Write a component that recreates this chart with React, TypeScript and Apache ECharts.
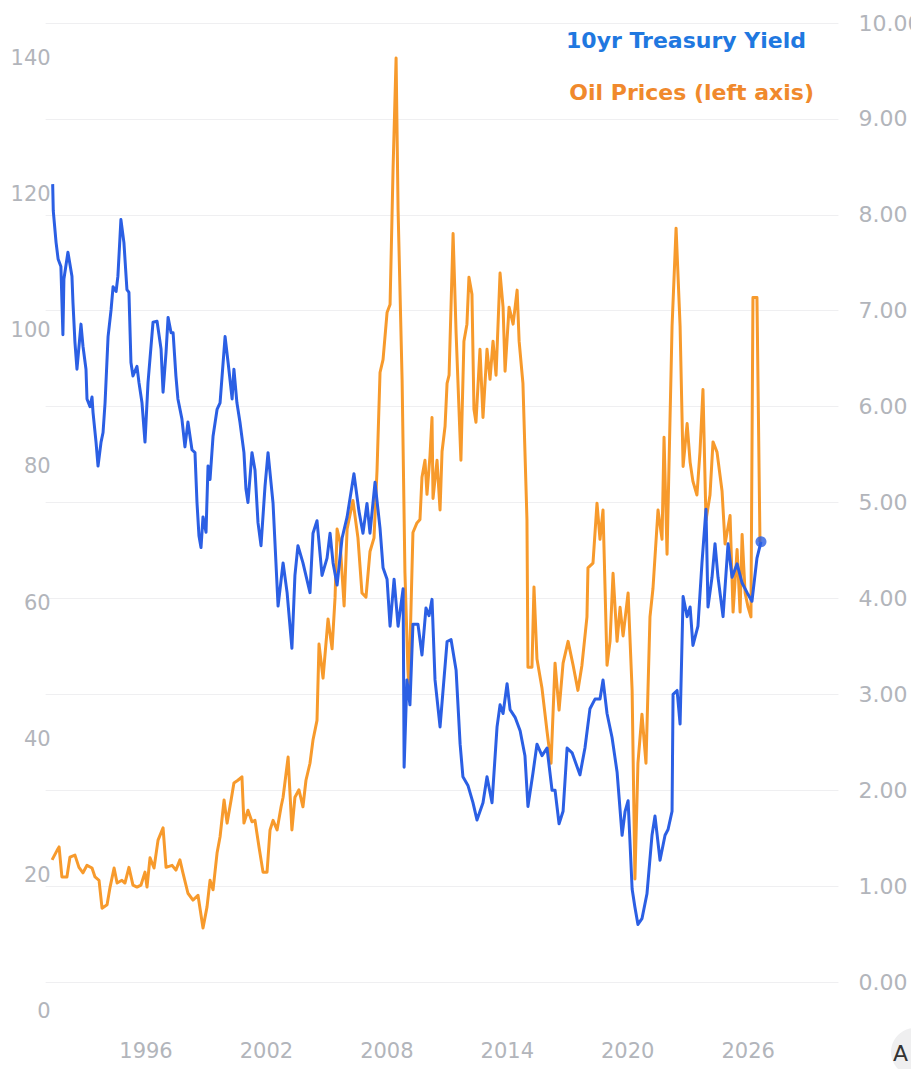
import React, { useEffect, useRef } from "react";
import * as echarts from "echarts";

// [year, yield %] – 10yr Treasury Yield (right axis)
const yieldData: [number, number][] = [
  [1991.35, 8.32], [1991.38, 8.04], [1991.52, 7.71], [1991.62, 7.54], [1991.76, 7.46], [1991.86, 6.75],
  [1991.91, 7.33], [1992.11, 7.61], [1992.31, 7.36], [1992.36, 7.09], [1992.46, 6.67], [1992.56, 6.39],
  [1992.76, 6.86], [1992.86, 6.63], [1993.01, 6.39], [1993.06, 6.08], [1993.21, 6.0], [1993.31, 6.1],
  [1993.36, 5.94], [1993.51, 5.63], [1993.61, 5.38], [1993.76, 5.63], [1993.86, 5.73], [1993.96, 6.04],
  [1994.11, 6.73], [1994.26, 7.01], [1994.36, 7.25], [1994.51, 7.2], [1994.6, 7.36], [1994.75, 7.95],
  [1994.9, 7.71], [1995.05, 7.22], [1995.15, 7.19], [1995.25, 6.46], [1995.35, 6.32], [1995.55, 6.42],
  [1995.65, 6.25], [1995.8, 6.04], [1995.95, 5.63], [1996.1, 6.25], [1996.35, 6.88], [1996.55, 6.89],
  [1996.75, 6.6], [1996.85, 6.15], [1997.0, 6.57], [1997.1, 6.93], [1997.25, 6.77], [1997.35, 6.77],
  [1997.49, 6.32], [1997.59, 6.08], [1997.79, 5.87], [1997.94, 5.58], [1998.09, 5.84], [1998.29, 5.55],
  [1998.44, 5.52], [1998.54, 5.0], [1998.64, 4.65], [1998.74, 4.53], [1998.84, 4.85], [1998.99, 4.69],
  [1999.09, 5.38], [1999.19, 5.24], [1999.34, 5.69], [1999.54, 5.97], [1999.69, 6.04], [1999.94, 6.73],
  [2000.09, 6.46], [2000.29, 6.08], [2000.38, 6.39], [2000.53, 6.04], [2000.68, 5.84], [2000.88, 5.52],
  [2000.98, 5.14], [2001.08, 5.0], [2001.28, 5.52], [2001.43, 5.34], [2001.58, 4.79], [2001.73, 4.55],
  [2001.93, 5.17], [2002.08, 5.52], [2002.33, 4.99], [2002.58, 3.92], [2002.83, 4.37], [2003.03, 4.06],
  [2003.27, 3.48], [2003.42, 4.24], [2003.57, 4.55], [2003.82, 4.37], [2004.17, 4.06], [2004.32, 4.68],
  [2004.52, 4.81], [2004.77, 4.24], [2005.02, 4.42], [2005.17, 4.68], [2005.32, 4.37], [2005.52, 4.14],
  [2005.77, 4.63], [2006.02, 4.85], [2006.36, 5.3], [2006.61, 4.91], [2006.81, 4.68], [2007.01, 4.99],
  [2007.16, 4.68], [2007.41, 5.21], [2007.66, 4.73], [2007.81, 4.32], [2008.01, 4.2], [2008.16, 3.71],
  [2008.36, 4.2], [2008.56, 3.71], [2008.81, 4.1], [2008.86, 2.24], [2009.0, 3.15], [2009.15, 2.89],
  [2009.3, 3.73], [2009.55, 3.73], [2009.75, 3.41], [2009.95, 3.9], [2010.1, 3.82], [2010.25, 3.99],
  [2010.4, 3.15], [2010.65, 2.66], [2011.0, 3.55], [2011.2, 3.57], [2011.45, 3.25], [2011.65, 2.48],
  [2011.79, 2.14], [2012.04, 2.05], [2012.29, 1.87], [2012.49, 1.69], [2012.79, 1.87], [2012.99, 2.14],
  [2013.24, 1.87], [2013.49, 2.66], [2013.64, 2.89], [2013.79, 2.8], [2013.99, 3.11], [2014.14, 2.84],
  [2014.39, 2.76], [2014.64, 2.62], [2014.88, 2.36], [2015.03, 1.83], [2015.28, 2.18], [2015.48, 2.48],
  [2015.73, 2.36], [2015.98, 2.44], [2016.23, 2.0], [2016.38, 2.0], [2016.58, 1.65], [2016.78, 1.78],
  [2016.98, 2.44], [2017.23, 2.39], [2017.62, 2.16], [2017.87, 2.44], [2018.12, 2.85], [2018.37, 2.95],
  [2018.62, 2.95], [2018.77, 3.15], [2018.97, 2.8], [2019.22, 2.55], [2019.47, 2.19], [2019.72, 1.53],
  [2019.87, 1.78], [2020.02, 1.89], [2020.22, 0.97], [2020.36, 0.78], [2020.51, 0.6], [2020.71, 0.66],
  [2020.96, 0.92], [2021.21, 1.53], [2021.36, 1.73], [2021.61, 1.27], [2021.86, 1.53], [2022.01, 1.59],
  [2022.21, 1.78], [2022.26, 3.0], [2022.46, 3.04], [2022.61, 2.69], [2022.76, 4.02], [2022.96, 3.81],
  [2023.11, 3.91], [2023.25, 3.51], [2023.5, 3.71], [2023.7, 4.37], [2023.9, 4.93], [2024.0, 3.91],
  [2024.2, 4.22], [2024.35, 4.57], [2024.5, 4.22], [2024.75, 3.81], [2025.0, 4.57], [2025.2, 4.22],
  [2025.45, 4.36], [2025.7, 4.16], [2025.95, 4.06], [2026.19, 3.97], [2026.44, 4.42], [2026.64, 4.59],
];

// [year, USD/bbl] – Oil prices (left axis)
const oilData: [number, number][] = [
  [1991.32, 22.2], [1991.57, 23.6], [1991.67, 24.1], [1991.81, 19.7], [1992.06, 19.7], [1992.21, 22.6],
  [1992.46, 22.9], [1992.66, 21.1], [1992.86, 20.3], [1993.06, 21.4], [1993.31, 21.0], [1993.46, 19.7],
  [1993.66, 19.2], [1993.81, 15.1], [1994.06, 15.6], [1994.21, 18.2], [1994.41, 21.0], [1994.56, 18.8],
  [1994.8, 19.2], [1994.95, 18.8], [1995.15, 21.1], [1995.35, 18.5], [1995.55, 18.2], [1995.75, 18.5],
  [1995.95, 20.4], [1996.05, 18.2], [1996.2, 22.5], [1996.4, 21.0], [1996.6, 25.1], [1996.85, 26.9],
  [1997.0, 21.1], [1997.3, 21.4], [1997.49, 20.7], [1997.69, 22.2], [1997.84, 20.3], [1998.09, 17.3],
  [1998.34, 16.3], [1998.59, 17.0], [1998.84, 12.2], [1999.04, 15.3], [1999.19, 19.2], [1999.34, 17.8],
  [1999.54, 23.2], [1999.69, 25.6], [1999.89, 31.0], [2000.04, 27.6], [2000.24, 31.0], [2000.38, 33.5],
  [2000.58, 33.9], [2000.78, 34.4], [2000.88, 27.6], [2001.08, 29.5], [2001.28, 27.8], [2001.43, 28.0],
  [2001.63, 24.1], [2001.83, 20.4], [2002.03, 20.4], [2002.18, 26.6], [2002.33, 28.0], [2002.53, 26.6],
  [2002.73, 30.0], [2002.83, 31.4], [2003.08, 37.3], [2003.27, 26.6], [2003.42, 31.4], [2003.62, 32.5],
  [2003.82, 30.0], [2003.97, 33.9], [2004.17, 36.4], [2004.32, 39.8], [2004.52, 42.7], [2004.62, 53.9],
  [2004.82, 48.9], [2005.07, 57.6], [2005.27, 53.2], [2005.42, 60.8], [2005.52, 70.8], [2005.67, 68.9],
  [2005.87, 59.5], [2006.02, 70.8], [2006.31, 75.0], [2006.56, 69.5], [2006.76, 61.4], [2006.96, 60.8],
  [2007.16, 67.5], [2007.36, 69.5], [2007.51, 79.4], [2007.66, 93.8], [2007.81, 95.7], [2008.01, 102.6],
  [2008.16, 103.8], [2008.31, 123.8], [2008.46, 140.0], [2008.56, 117.6], [2008.76, 92.7], [2008.9, 64.5],
  [2009.05, 50.1], [2009.1, 47.4], [2009.3, 70.3], [2009.5, 71.7], [2009.65, 72.2], [2009.75, 78.4],
  [2009.9, 80.9], [2010.0, 75.9], [2010.15, 81.6], [2010.25, 87.2], [2010.3, 75.3], [2010.5, 80.9],
  [2010.65, 73.6], [2010.75, 82.2], [2010.9, 85.9], [2011.0, 92.2], [2011.1, 93.4], [2011.3, 114.2],
  [2011.45, 99.6], [2011.69, 80.9], [2011.84, 98.4], [2011.99, 100.9], [2012.09, 107.8], [2012.24, 105.3],
  [2012.34, 88.4], [2012.44, 86.5], [2012.64, 97.2], [2012.79, 87.2], [2012.99, 97.2], [2013.14, 92.8],
  [2013.29, 98.4], [2013.44, 93.4], [2013.64, 108.4], [2013.79, 103.4], [2013.89, 94.0], [2014.09, 103.4],
  [2014.29, 100.9], [2014.49, 105.9], [2014.59, 98.4], [2014.78, 92.2], [2014.98, 72.2], [2015.03, 50.5],
  [2015.23, 50.5], [2015.33, 62.3], [2015.48, 51.7], [2015.73, 47.4], [2015.98, 41.1], [2016.18, 36.4],
  [2016.38, 51.1], [2016.58, 44.2], [2016.78, 51.1], [2017.03, 54.3], [2017.28, 50.8], [2017.52, 47.1],
  [2017.72, 50.8], [2017.97, 57.9], [2018.02, 65.1], [2018.27, 65.8], [2018.47, 74.6], [2018.62, 69.3],
  [2018.77, 73.6], [2018.97, 50.8], [2019.12, 54.3], [2019.27, 64.3], [2019.47, 54.3], [2019.62, 59.3],
  [2019.77, 55.1], [2020.02, 61.4], [2020.22, 47.1], [2020.36, 19.4], [2020.51, 36.4], [2020.71, 43.6],
  [2020.91, 36.4], [2021.11, 57.9], [2021.26, 62.1], [2021.51, 73.6], [2021.71, 69.3], [2021.81, 84.3],
  [2021.96, 67.1], [2022.21, 100.6], [2022.41, 115.0], [2022.61, 100.6], [2022.76, 80.0], [2022.96, 86.3],
  [2023.11, 80.6], [2023.25, 77.8], [2023.45, 75.8], [2023.6, 82.1], [2023.75, 91.3], [2023.9, 72.1],
  [2024.1, 75.8], [2024.25, 83.6], [2024.45, 82.1], [2024.7, 76.4], [2024.85, 68.6], [2025.1, 72.8],
  [2025.25, 58.6], [2025.45, 67.8], [2025.6, 58.6], [2025.7, 70.0], [2025.85, 61.4], [2026.0, 59.3],
  [2026.14, 57.9], [2026.24, 104.8], [2026.44, 104.8], [2026.59, 68.9],
];

const xTickYears = [1996, 2002, 2008, 2014, 2020, 2026];
const seriesNames = ["10yr Treasury Yield", "Oil Prices (left axis)"];

const BLUE = "#2b5fe4";
const ORANGE = "#f79a2c";
const LABEL_GRAY = "#b2b5bb";

export default function App() {
  const ref = useRef<HTMLDivElement>(null);

  useEffect(() => {
    if (!ref.current) return;
    const chart = echarts.init(ref.current, null, { renderer: "svg" });

    const xMin = 1991;
    const xMax = 2030.5;
    const gridLeft = 45.65;
    const gridWidth = 792.8;
    const axisFont = "DejaVu Sans, Verdana, sans-serif";

    chart.setOption({
      animation: false,
      backgroundColor: "#ffffff",
      grid: [
        { left: gridLeft, width: gridWidth, top: 23, height: 959, containLabel: false, outerBoundsMode: "none" },
        { left: gridLeft, width: gridWidth, top: 58, height: 953, containLabel: false, outerBoundsMode: "none" },
      ],
      xAxis: [
        {
          gridIndex: 0,
          type: "value",
          min: xMin,
          max: xMax,
          axisLine: { show: false },
          axisTick: { show: false },
          splitLine: { show: false },
          axisLabel: {
            customValues: xTickYears,
            formatter: (v: number) => String(v),
            margin: 58,
            color: LABEL_GRAY,
            fontSize: 21,
            fontFamily: axisFont,
          },
        },
        {
          gridIndex: 1,
          type: "value",
          min: xMin,
          max: xMax,
          show: false,
        },
      ],
      yAxis: [
        {
          gridIndex: 0,
          type: "value",
          position: "right",
          min: 0,
          max: 10,
          interval: 1,
          axisLine: { show: false },
          axisTick: { show: false },
          splitLine: { show: true, lineStyle: { color: "#efeff1", width: 1 } },
          axisLabel: {
            formatter: (v: number) => v.toFixed(2),
            margin: 20,
            align: "left",
            color: LABEL_GRAY,
            fontSize: 22,
            fontFamily: axisFont,
          },
        },
        {
          gridIndex: 1,
          type: "value",
          position: "left",
          min: 0,
          max: 140,
          interval: 20,
          axisLine: { show: false },
          axisTick: { show: false },
          splitLine: { show: false },
          axisLabel: {
            margin: -5,
            color: LABEL_GRAY,
            fontSize: 21,
            fontFamily: axisFont,
          },
        },
      ],
      series: [
        {
          name: seriesNames[1],
          type: "line",
          xAxisIndex: 1,
          yAxisIndex: 1,
          data: oilData,
          symbol: "none",
          showSymbol: false,
          clip: false,
          z: 2,
          lineStyle: { color: ORANGE, width: 3, join: "round" },
        },
        {
          name: seriesNames[0],
          type: "line",
          xAxisIndex: 0,
          yAxisIndex: 0,
          data: yieldData,
          symbol: "none",
          showSymbol: false,
          clip: false,
          z: 3,
          lineStyle: { color: BLUE, width: 3, join: "round" },
        },
        {
          type: "scatter",
          xAxisIndex: 0,
          yAxisIndex: 0,
          data: [yieldData[yieldData.length - 1]],
          symbol: "circle",
          symbolSize: 11,
          z: 4,
          itemStyle: { color: BLUE },
        },
      ],
      graphic: [
        {
          type: "text",
          x: 806,
          y: 40,
          style: {
            text: seriesNames[0],
            fill: "#1f78e0",
            font: "bold 22px 'DejaVu Sans', Verdana, sans-serif",
            textAlign: "right",
            textVerticalAlign: "middle",
          },
        },
        {
          type: "text",
          x: 814,
          y: 92,
          style: {
            text: seriesNames[1],
            fill: "#f0892c",
            font: "bold 22px 'DejaVu Sans', Verdana, sans-serif",
            textAlign: "right",
            textVerticalAlign: "middle",
          },
        },
        {
          type: "circle",
          shape: { cx: 915, cy: 1052, r: 24 },
          style: { fill: "#efeff0" },
        },
        {
          type: "text",
          x: 893,
          y: 1053,
          style: {
            text: "A",
            fill: "#333333",
            font: "22px 'DejaVu Sans', sans-serif",
            textAlign: "left",
            textVerticalAlign: "middle",
          },
        },
      ],
    });

    return () => chart.dispose();
  }, []);

  return (
    <div
      ref={ref}
      style={{ position: "absolute", left: 0, top: 0, width: 911, height: 1069, background: "#fff" }}
    />
  );
}
